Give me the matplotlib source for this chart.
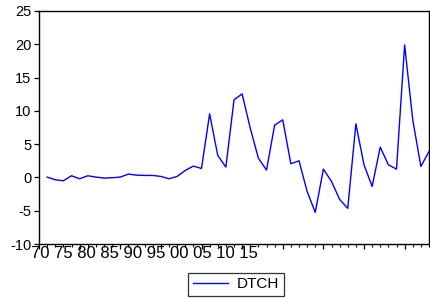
import matplotlib
matplotlib.use("Agg")
import matplotlib.pyplot as plt
from matplotlib.ticker import MultipleLocator
from matplotlib.transforms import offset_copy

years = list(range(1971, 2019))
dtch = [0.05, -0.35, -0.5, 0.25, -0.2, 0.25, 0.05, -0.1, -0.05, 0.05,
        0.5, 0.35, 0.3, 0.3, 0.15, -0.2, 0.15, 1.05, 1.7, 1.35,
        9.55, 3.3, 1.55, 11.65, 12.55, 7.4, 2.9, 1.1, 7.85, 8.65,
        2.05, 2.5, -2.1, -5.25, 1.25, -0.6, -3.3, -4.65, 8.05, 1.9,
        -1.35, 4.55, 1.9, 1.25, 19.9, 8.65, 1.65, 3.9]
x_labels = ["70", "75", "80", "85", "90", "95", "00", "05", "10", "15"]
y_ticks = [-10, -5, 0, 5, 10, 15, 20, 25]

plt.rcParams['font.family'] = ['Liberation Sans', 'DejaVu Sans']

fig = plt.figure(figsize=(4.30, 2.98), dpi=100)
ax = fig.add_axes([39/430, 54/298, 390/430, 233/298])

ax.plot(years, dtch, color='#0000FF', linewidth=1.0, label='DTCH')

ax.set_xlim(1970, 2018)
ax.set_ylim(-10, 25)
ax.set_yticks(y_ticks)
ax.set_yticklabels([str(v) for v in y_ticks], fontsize=10.5)
ax.xaxis.set_major_locator(MultipleLocator(5))
ax.xaxis.set_minor_locator(MultipleLocator(1))
ax.set_xticklabels([])
ax.tick_params(axis='x', which='major', direction='out', length=3.6, width=0.9)
ax.tick_params(axis='x', which='minor', direction='out', length=1.8, width=0.8)
ax.tick_params(axis='y', which='major', direction='out', length=3.6, width=0.9, pad=2)
for s in ax.spines.values():
    s.set_linewidth(1.0)
    s.set_color('black')

tr = offset_copy(ax.transAxes, fig=fig, x=-8, y=-2, units='dots')
ax.text(0, 0, ' '.join(x_labels), transform=tr, ha='left', va='top', fontsize=12)

leg = ax.legend(loc='upper center', bbox_to_anchor=(0.505, -0.123), frameon=True,
                fancybox=False, edgecolor='black', fontsize=11, handlelength=2.3,
                handletextpad=0.6, borderpad=0.3, borderaxespad=0)
leg.get_frame().set_linewidth(0.9)

fig.savefig('out.png', dpi=100)
